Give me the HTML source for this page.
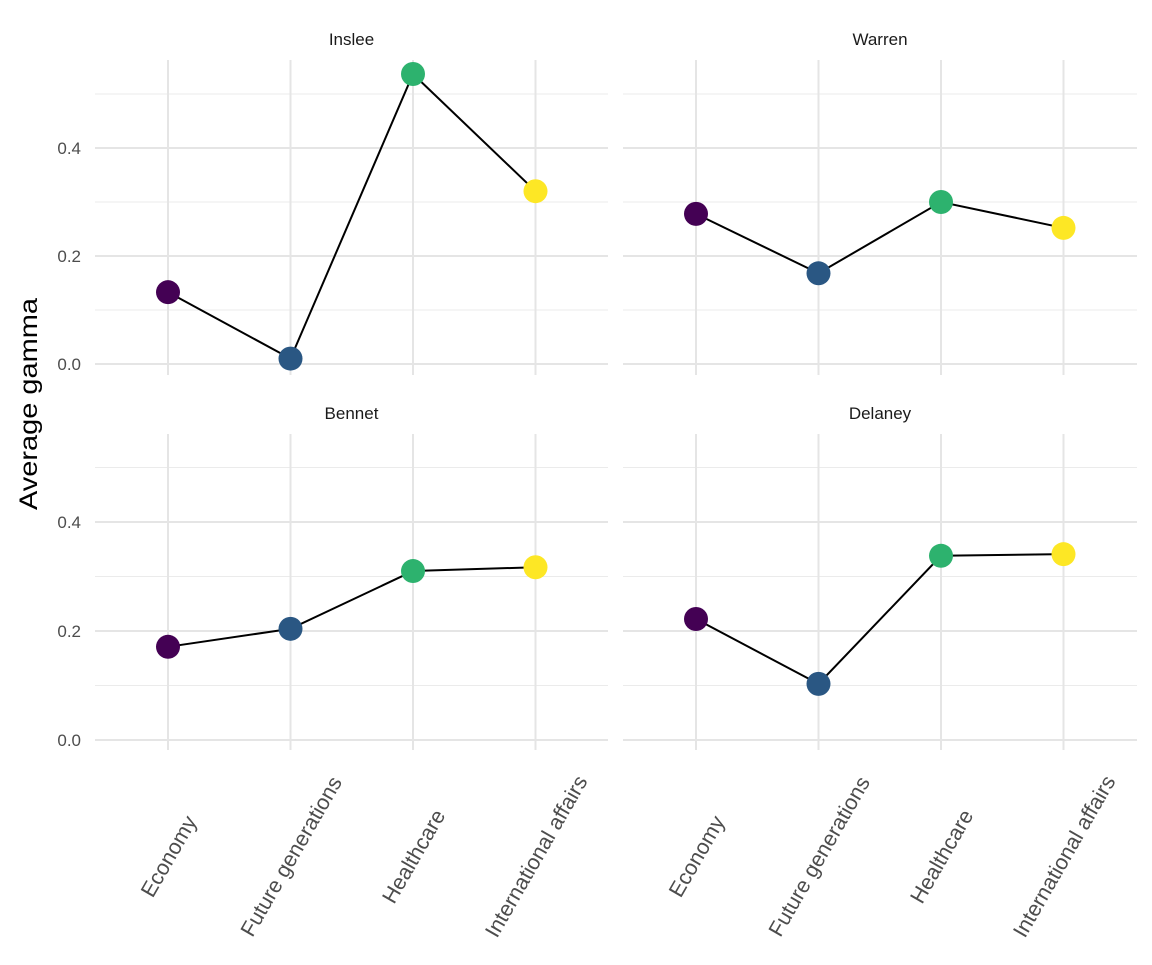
<!DOCTYPE html>
<html><head><meta charset="utf-8"><style>
body{margin:0;background:#fff}
text{font-family:"Liberation Sans",Arial,sans-serif}
</style></head><body>
<svg id="chart" width="1152" height="960" xmlns="http://www.w3.org/2000/svg">
<text x="0" y="0" transform="translate(37,404) rotate(-90)" text-anchor="middle" font-size="25" textLength="212" lengthAdjust="spacingAndGlyphs" fill="#000">Average gamma</text>
</svg>
<script>
const categories=["Economy","Future generations","Healthcare","International affairs"];
const panels=["Inslee","Warren","Bennet","Delaney"];
const inslee=[0.133,0.010,0.537,0.320];
const warren=[0.278,0.168,0.300,0.252];
const bennet=[0.171,0.204,0.310,0.317];
const delaney=[0.222,0.103,0.338,0.341];
const yTicks=[0.0,0.2,0.4];
const yMinor=[0.1,0.3,0.5];
const colors=["#440154","#2A5783","#2DB26E","#FDE725"];
const series=[inslee,warren,bennet,delaney];
const svg=document.getElementById('chart');
const NS="http://www.w3.org/2000/svg";
function mk(t,a,parent){const e=document.createElementNS(NS,t);for(const k in a)e.setAttribute(k,a[k]);(parent||svg).appendChild(e);return e;}
const layout=[{x0:95,x1:608,y0:60,y1:375,zero:364,scale:540},{x0:623,x1:1137,y0:60,y1:375,zero:364,scale:540},{x0:95,x1:608,y0:434,y1:750,zero:740,scale:545},{x0:623,x1:1137,y0:434,y1:750,zero:740,scale:545}];
panels.forEach((name,p)=>{
  const L=layout[p];
  const g=mk('g',{});
  
  
  const xs=i=>L.x0+73+i*122.5;
  const ys=v=>L.zero-v*L.scale;
  yMinor.forEach(v=>{const l=mk('line',{x1:L.x0,x2:L.x1,y1:ys(v),y2:ys(v),stroke:'#ebebeb','stroke-width':1},g);});
  yTicks.forEach(v=>{const l=mk('line',{x1:L.x0,x2:L.x1,y1:ys(v),y2:ys(v),stroke:'#e5e5e5','stroke-width':2},g);});
  categories.forEach((c,i)=>{const l=mk('line',{x1:xs(i),x2:xs(i),y1:L.y0,y2:L.y1,stroke:'#e5e5e5','stroke-width':2},g);});
  const t=mk('text',{x:(L.x0+L.x1)/2,y:L.y0-15,'text-anchor':'middle','font-size':17,fill:'#1a1a1a'},g);t.textContent=name;
  
  if(p%2===0){yTicks.forEach(v=>{const tt=mk('text',{x:81,y:ys(v)+6,'text-anchor':'end','font-size':17,fill:'#4d4d4d'},g);tt.textContent=v.toFixed(1);
    });}
  if(p>=2){categories.forEach((c,i)=>{const tt=mk('text',{x:0,y:0,transform:`translate(${xs(i)+7},${L.y1+110}) rotate(-60)`,'text-anchor':'middle','font-size':21.5,fill:'#4d4d4d'},g);tt.textContent=c;
    });}
  const d=series[p].map((v,i)=>(i?'L':'M')+xs(i)+','+ys(v)).join(' ');
  const path=mk('path',{d,fill:'none',stroke:'#000','stroke-width':2},g);
  
  series[p].forEach((v,i)=>{const c=mk('circle',{cx:xs(i),cy:ys(v),r:12,fill:colors[i]},g);
    });
});
</script>
</body></html>
